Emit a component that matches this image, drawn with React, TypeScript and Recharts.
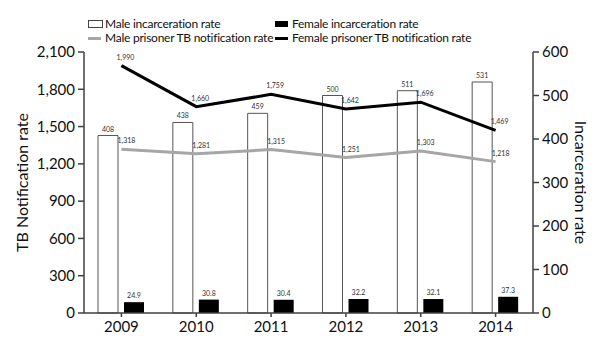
import React from "react";
import {
  Bar,
  ComposedChart,
  LabelList,
  Line,
  XAxis,
  YAxis,
} from "recharts";

const years = ["2009", "2010", "2011", "2012", "2013", "2014"];
const maleIncarceration = [408, 438, 459, 500, 511, 531];
const femaleIncarceration = [24.9, 30.8, 30.4, 32.2, 32.1, 37.3];
const maleTb = [1318, 1281, 1315, 1251, 1303, 1218];
const femaleTb = [1990, 1660, 1759, 1642, 1696, 1469];
const leftTicks = [0, 300, 600, 900, 1200, 1500, 1800, 2100];
const rightTicks = [0, 100, 200, 300, 400, 500, 600];

const data = years.map((year, i) => ({
  year,
  maleInc: maleIncarceration[i],
  femaleInc: femaleIncarceration[i],
  maleTb: maleTb[i],
  femaleTb: femaleTb[i],
}));

const FONT = "Lato, 'Open Sans', sans-serif";
const AXIS = "#404040";
const fmt = (v: number) => v.toLocaleString("en-US");

const labelStyle = { fontSize: 7, fill: "#333", fontFamily: FONT };

const LegendItem = function ({ icon, text }: { icon: React.ReactNode; text: string }) {
  return (
    <div style={{ display: "flex", alignItems: "center", height: 14, whiteSpace: "nowrap" }}>
      <div style={{ width: 17, display: "flex", alignItems: "center" }}>{icon}</div>
      <span>{text}</span>
    </div>
  );
};

const App = function () {
  return (
    <div style={{ position: "absolute", left: 0, top: 0, width: 600, height: 363, background: "#fff" }}>
      <ComposedChart
        width={600}
        height={363}
        data={data}
        margin={{ top: 52, right: 20, left: 34, bottom: 20 }}
        barGap={6}
        barCategoryGap={14}
      >
        <XAxis
          dataKey="year"
          stroke={AXIS}
          strokeWidth={1.5}
          tickSize={4}
          tickMargin={4}
          height={30}
          tick={{ fill: "#111", fontSize: 15, fontFamily: FONT }}
        />
        <YAxis
          yAxisId="left"
          domain={[0, 2100]}
          ticks={leftTicks}
          tickFormatter={fmt}
          stroke={AXIS}
          strokeWidth={1.5}
          tickSize={6}
          tickMargin={3}
          width={50}
          interval={0}
          tick={{ fill: "#111", fontSize: 15, fontFamily: FONT }}
          label={{
            value: "TB Notification rate",
            angle: -90,
            position: "insideLeft",
            dx: -17,
            style: { textAnchor: "middle", fill: "#111", fontSize: 16, fontFamily: FONT },
          }}
        />
        <YAxis
          yAxisId="right"
          orientation="right"
          domain={[0, 600]}
          ticks={rightTicks}
          stroke={AXIS}
          strokeWidth={1.5}
          tickSize={6}
          tickMargin={3}
          width={47}
          interval={0}
          tick={{ fill: "#111", fontSize: 15, fontFamily: FONT }}
          label={{
            value: "Incarceration rate",
            angle: 90,
            position: "insideRight",
            dx: 6,
            style: { textAnchor: "middle", fill: "#111", fontSize: 16, fontFamily: FONT },
          }}
        />
        <Bar
          yAxisId="right"
          dataKey="maleInc"
          fill="#fff"
          stroke="#555"
          strokeWidth={1}
          barSize={20}
          isAnimationActive={false}
        >
          <LabelList dataKey="maleInc" position="top" offset={4} fill="#333" stroke="none" style={labelStyle} />
        </Bar>
        <Bar
          yAxisId="right"
          dataKey="femaleInc"
          fill="#000"
          barSize={20}
          isAnimationActive={false}
        >
          <LabelList dataKey="femaleInc" position="top" offset={4} fill="#333" stroke="none" style={labelStyle} />
        </Bar>
        <Line
          yAxisId="left"
          dataKey="maleTb"
          stroke="#a6a6a6"
          strokeWidth={3}
          dot={false}
          isAnimationActive={false}
        >
          <LabelList dataKey="maleTb" position="top" offset={6} dx={5} formatter={fmt} fill="#333" stroke="none" style={labelStyle} />
        </Line>
        <Line
          yAxisId="left"
          dataKey="femaleTb"
          stroke="#000"
          strokeWidth={3}
          dot={false}
          isAnimationActive={false}
        >
          <LabelList dataKey="femaleTb" position="top" offset={6} dx={4} formatter={fmt} fill="#333" stroke="none" style={labelStyle} />
        </Line>
      </ComposedChart>
      <div
        style={{
          position: "absolute",
          left: 88,
          top: 17,
          display: "grid",
          gridTemplateColumns: "187px auto",
          fontSize: 12,
          letterSpacing: "-0.25px",
          fontFamily: FONT,
          color: "#111",
          lineHeight: "14px",
        }}
      >
        <LegendItem
          icon={<div style={{ width: 13, height: 6, border: "1px solid #444", background: "#fff" }} />}
          text="Male incarceration rate"
        />
        <LegendItem
          icon={<div style={{ width: 13, height: 6, background: "#000" }} />}
          text="Female incarceration rate"
        />
        <LegendItem
          icon={<div style={{ width: 13, height: 3, background: "#a6a6a6" }} />}
          text="Male prisoner TB notification rate"
        />
        <LegendItem
          icon={<div style={{ width: 13, height: 3, background: "#000" }} />}
          text="Female prisoner TB notification rate"
        />
      </div>
    </div>
  );
};

export default App;
